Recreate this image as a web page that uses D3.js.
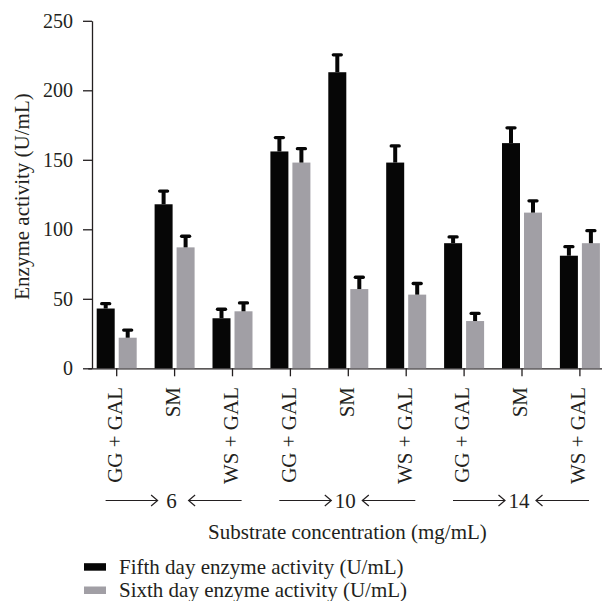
<!DOCTYPE html>
<html>
<head>
<meta charset="utf-8">
<script src="https://cdn.jsdelivr.net/npm/d3@7.9.0/dist/d3.min.js"></script>
<style>
  body { margin: 0; background: #fff; }
  svg { display: block; font-family: "Liberation Serif", "DejaVu Serif", serif; }
  .axis path, .axis line { stroke: #231f20; stroke-width: 1.3; }
  .axis text { fill: #231f20; font-size: 20px; font-family: "Liberation Serif", serif; }
</style>
</head>
<body>
<svg width="602" height="601"></svg>
<script>
// data
const concentrations = ["6", "10", "14"];
const substrates = ["GG + GAL", "SM", "WS + GAL"];
const fifthDay = [43, 118, 36, 156, 213, 148, 90, 162, 81];
const fifthErr = [3.5, 9.5, 6.5, 10, 12.5, 12, 4.5, 11, 6.5];
const sixthDay = [22, 87, 41, 148, 57, 53, 34, 112, 90];
const sixthErr = [5.5, 8, 6, 10, 8.5, 8, 5.5, 8.5, 9];
const yTicks = [0, 50, 100, 150, 200, 250];
const seriesNames = ["Fifth day enzyme activity (U/mL)", "Sixth day enzyme activity (U/mL)"];

const black = "#060606", grey = "#a19fa5", ink = "#231f20";

// one entry per bar group
const rows = [];
concentrations.forEach((c, ci) => {
  substrates.forEach((s, si) => {
    const i = ci * 3 + si;
    rows.push({ key: i, label: s, conc: c, f: fifthDay[i], fe: fifthErr[i], s6: sixthDay[i], se: sixthErr[i] });
  });
});

const svg = d3.select("svg");

const y = d3.scaleLinear().domain([0, 250]).range([368.3, 20.8]);
const x = d3.scaleBand().domain(rows.map(d => d.key)).range([87.75, 608.85]).padding(0);
const cx = k => x(k) + x.bandwidth() / 2;

// axes
svg.append("g")
  .attr("class", "axis")
  .attr("transform", "translate(0,368.3)")
  .call(d3.axisBottom(x).tickSize(8).tickSizeOuter(0).tickFormat(() => ""));

svg.append("g")
  .attr("class", "axis")
  .attr("transform", "translate(92,0)")
  .call(d3.axisLeft(y).tickValues(yTicks).tickSize(9).tickPadding(10).tickSizeOuter(0));

// bars
const barW = 18;
const bars = svg.append("g");
bars.selectAll("rect.fifth").data(rows).join("rect")
  .attr("class", "fifth")
  .attr("x", d => cx(d.key) - 20)
  .attr("width", barW)
  .attr("y", d => y(d.f))
  .attr("height", d => y(0) - y(d.f))
  .attr("fill", black);
bars.selectAll("rect.sixth").data(rows).join("rect")
  .attr("class", "sixth")
  .attr("x", d => cx(d.key) + 2)
  .attr("width", barW)
  .attr("y", d => y(d.s6))
  .attr("height", d => y(0) - y(d.s6))
  .attr("fill", grey);

// error bars (upper only)
function errBars(cls, off, val, err) {
  const g = svg.append("g").attr("stroke", black).attr("stroke-linecap", "round");
  g.selectAll("line.stem-" + cls).data(rows).join("line")
    .attr("x1", d => cx(d.key) + off).attr("x2", d => cx(d.key) + off)
    .attr("y1", d => y(val(d))).attr("y2", d => y(val(d) + err(d)))
    .attr("stroke-width", 4).attr("stroke-linecap", "butt");
  g.selectAll("line.cap-" + cls).data(rows).join("line")
    .attr("x1", d => cx(d.key) + off - 4).attr("x2", d => cx(d.key) + off + 4)
    .attr("y1", d => y(val(d) + err(d))).attr("y2", d => y(val(d) + err(d)))
    .attr("stroke-width", 3.3);
}
errBars("f", -11, d => d.f, d => d.fe);
errBars("s", 11, d => d.s6, d => d.se);

// rotated substrate labels
svg.append("g").selectAll("text").data(rows).join("text")
  .attr("transform", d => `translate(${cx(d.key) - 2},387) rotate(-90)`)
  .attr("text-anchor", "end")
  .attr("dy", "0.35em")
  .attr("font-size", 21)
  .attr("fill", ink)
  .text(d => d.label);

// concentration labels with arrows
const arrowY = 500.5;
const conc = svg.append("g").attr("stroke", ink).attr("stroke-width", 1.2).attr("fill", "none");
concentrations.forEach((c, ci) => {
  const mid = cx(ci * 3 + 1);
  const a1 = mid - 69, a2 = mid - 17, b1 = mid + 14, b2 = mid + 67;
  conc.append("line").attr("x1", a1).attr("x2", a2).attr("y1", arrowY).attr("y2", arrowY);
  conc.append("path").attr("d", `M${a2 - 6.5},${arrowY - 5.5}L${a2},${arrowY}L${a2 - 6.5},${arrowY + 5.5}`);
  conc.append("line").attr("x1", b1).attr("x2", b2).attr("y1", arrowY).attr("y2", arrowY);
  conc.append("path").attr("d", `M${b1 + 6.5},${arrowY - 5.5}L${b1},${arrowY}L${b1 + 6.5},${arrowY + 5.5}`);
  svg.append("text")
    .attr("x", mid - 3).attr("y", arrowY).attr("dy", "0.35em")
    .attr("text-anchor", "middle").attr("font-size", 21).attr("fill", ink)
    .text(c);
});

// axis titles
svg.append("text")
  .attr("x", 347.5).attr("y", 539)
  .attr("text-anchor", "middle").attr("font-size", 21).attr("fill", ink)
  .text("Substrate concentration (mg/mL)");

svg.append("text")
  .attr("transform", "translate(29,196.5) rotate(-90)")
  .attr("text-anchor", "middle").attr("font-size", 21).attr("fill", ink)
  .text("Enzyme activity (U/mL)");

// legend
const legend = svg.append("g");
[black, grey].forEach((col, i) => {
  const ly = 566.7 + i * 23.3;
  legend.append("rect").attr("x", 84).attr("y", ly - 3.5).attr("width", 22).attr("height", 7.5).attr("fill", col);
  legend.append("text").attr("x", 119).attr("y", ly).attr("dy", "0.33em")
    .attr("font-size", 21).attr("fill", ink).text(seriesNames[i]);
});
</script>
</body>
</html>
